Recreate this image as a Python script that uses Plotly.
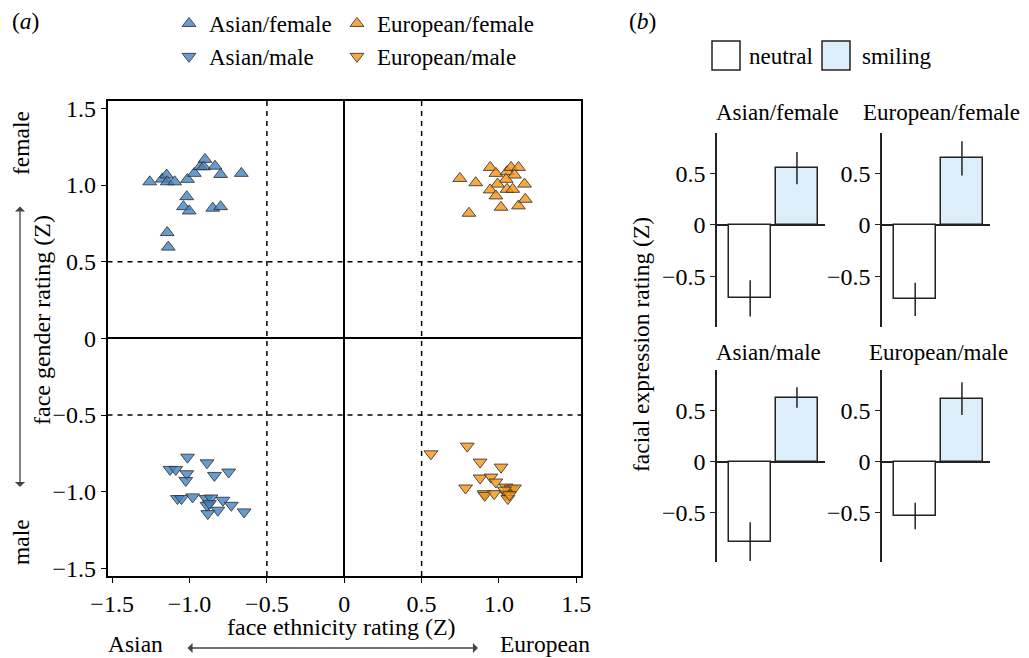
import plotly.graph_objects as go

# ---------------- data: panel (a) ----------------
af_x = [-1.257, -1.176, -1.148, -1.144, -1.096, -1.013, -0.969, -0.930, -0.908, -0.900,
        -0.835, -0.799, -0.665, -1.018, -1.039, -1.002, -0.850, -0.799, -1.144, -1.137]
af_y = [1.021, 1.039, 1.065, 1.021, 1.021, 1.037, 1.076, 1.120, 1.119, 1.167,
        1.123, 1.069, 1.076, 0.924, 0.859, 0.831, 0.849, 0.859, 0.690, 0.595]

ef_x = [0.747, 0.850, 0.943, 0.980, 1.052, 1.078, 1.126, 1.100, 1.046, 0.991,
        0.943, 1.052, 1.089, 1.165, 0.980, 1.013, 1.126, 1.170, 0.806]
ef_y = [1.043, 1.015, 1.115, 1.076, 1.087, 1.115, 1.115, 1.065, 1.037, 1.006,
        0.968, 0.972, 0.972, 1.006, 0.929, 0.855, 0.864, 0.907, 0.816]

am_x = [-1.013, -1.126, -1.089, -1.018, -1.024, -0.887, -0.839, -0.747, -1.078, -1.052,
        -0.980, -0.893, -0.861, -0.887, -0.871, -0.784, -0.730, -0.817, -0.882, -0.647]
am_y = [-0.775, -0.855, -0.855, -0.883, -0.927, -0.812, -0.894, -0.872, -1.045, -1.045,
        -1.034, -1.045, -1.041, -1.089, -1.078, -1.056, -1.089, -1.121, -1.143, -1.132]

em_x = [0.560, 0.795, 0.878, 1.013, 0.878, 0.948, 0.980, 0.784, 0.904, 0.908,
        0.969, 1.046, 1.078, 1.046, 1.057, 1.100, 1.035, 1.067]
em_y = [-0.753, -0.703, -0.807, -0.840, -0.911, -0.905, -0.937, -0.976, -1.013, -1.024,
        -1.013, -0.970, -0.981, -1.013, -1.045, -0.976, -0.990, -1.020]

a_ticks = [-1.5, -1.0, -0.5, 0, 0.5, 1.0, 1.5]
a_ticktext = ["\u22121.5", "\u22121.0", "\u22120.5", "0", "0.5", "1.0", "1.5"]
a_dashed = [-0.5, 0.5]

# ---------------- data: panel (b) ----------------
groups = ["Asian/female", "European/female", "Asian/male", "European/male"]
conditions = ["neutral", "smiling"]
neutral_mean = [-0.71, -0.72, -0.78, -0.53]
neutral_err = [0.175, 0.16, 0.19, 0.13]
smiling_mean = [0.55, 0.645, 0.63, 0.62]
smiling_err = [0.155, 0.165, 0.10, 0.16]
b_ticks = [-0.5, 0, 0.5]
b_ticktext = ["\u22120.5", "0", "0.5"]

# ---------------- styling ----------------
W, H = 1029, 658
OFF = 8  # page body margin
FONT = "Liberation Serif"
FS = 23.5
TFS = 24
BLUE = "rgba(62,128,192,0.78)"
ORANGE = "rgba(246,148,18,0.80)"
EDGE = "rgba(50,50,50,0.85)"
LIGHTBLUE = "#ddeefb"


def px(p):
    return (p - OFF) / W


def py(p):
    return 1 - (p - OFF) / H


fig = go.Figure()

series = [
    ("Asian/female", af_x, af_y, "triangle-up", BLUE, "legend"),
    ("Asian/male", am_x, am_y, "triangle-down", BLUE, "legend"),
    ("European/female", ef_x, ef_y, "triangle-up", ORANGE, "legend2"),
    ("European/male", em_x, em_y, "triangle-down", ORANGE, "legend2"),
]
for name, xs, ys, sym, col, leg in series:
    fig.add_trace(go.Scatter(
        x=xs, y=ys, mode="markers", name=name, legend=leg,
        marker=dict(symbol=sym, size=12, color=col, line=dict(color=EDGE, width=1)),
        xaxis="x", yaxis="y", hoverinfo="skip"))

# panel (b) bars
for i, g in enumerate(groups):
    ax = str(i + 2)
    fig.add_trace(go.Bar(
        x=conditions, y=[neutral_mean[i], smiling_mean[i]],
        width=0.89,
        marker=dict(color=["white", LIGHTBLUE], line=dict(color="#222", width=1.5)),
        error_y=dict(type="data", array=[neutral_err[i], smiling_err[i]],
                     color="#222", thickness=1.5, width=0),
        showlegend=False, xaxis="x" + ax, yaxis="y" + ax, hoverinfo="skip"))

# dashed reference lines in panel (a)
for v in a_dashed:
    fig.add_shape(type="line", xref="x", yref="y domain", x0=v, x1=v, y0=0, y1=1,
                  line=dict(color="black", width=1.5, dash="5px,5px"))
    fig.add_shape(type="line", xref="x domain", yref="y", x0=0, x1=1, y0=v, y1=v,
                  line=dict(color="black", width=1.5, dash="5px,5px"))

legend_common = dict(orientation="v", yanchor="middle", xanchor="left",
                     font=dict(family=FONT, size=23), bgcolor="rgba(0,0,0,0)",
                     borderwidth=0, itemclick=False, itemdoubleclick=False,
                     tracegroupgap=0)

layout = dict(
    width=W, height=H,
    margin=dict(l=0, r=0, t=0, b=0, pad=0, autoexpand=False),
    paper_bgcolor="white", plot_bgcolor="white",
    font=dict(family=FONT, size=FS, color="black"),
    showlegend=True,
    bargap=0,
    xaxis=dict(domain=[px(107.5), px(581)], range=[-1.53, 1.53],
               tickvals=a_ticks, ticktext=a_ticktext, tickfont=dict(size=TFS),
               showline=True, mirror=True, linecolor="black", linewidth=1.5,
               ticks="outside", ticklen=5, tickcolor="black",
               showgrid=False, zeroline=True, zerolinecolor="black", zerolinewidth=1.5,
               anchor="y"),
    yaxis=dict(domain=[py(576), py(100.7)], range=[-1.55, 1.55],
               tickvals=a_ticks, ticktext=a_ticktext, tickfont=dict(size=TFS),
               showline=True, mirror=True, linecolor="black", linewidth=1.5,
               ticks="outside", ticklen=5, tickcolor="black",
               showgrid=False, zeroline=True, zerolinecolor="black", zerolinewidth=1.5,
               anchor="x"),
    legend=dict(x=px(169), y=py(40), **legend_common),
    legend2=dict(x=px(337), y=py(40), **legend_common),
)

b_x_domains = [[717, 825], [882, 990], [717, 825], [882, 990]]
b_y_domains = [[133, 327], [133, 327], [370, 562], [370, 562]]
b_y_ranges = [[-0.987, 0.89], [-0.987, 0.89], [-0.98, 0.90], [-0.98, 0.90]]
for i in range(4):
    n = i + 2
    xd = b_x_domains[i]
    yd = b_y_domains[i]
    layout["xaxis%d" % n] = dict(domain=[px(xd[0]), px(xd[1])], range=[-0.71, 1.6],
                                 showline=False, showticklabels=False, ticks="",
                                 showgrid=False, zeroline=False, anchor="y%d" % n)
    layout["yaxis%d" % n] = dict(domain=[py(yd[1]), py(yd[0])], range=b_y_ranges[i],
                                 tickvals=b_ticks, ticktext=b_ticktext,
                                 tickfont=dict(size=TFS),
                                 showline=True, linecolor="#222", linewidth=1.5,
                                 ticks="outside", ticklen=5, tickcolor="#222",
                                 showgrid=False, zeroline=True, zerolinecolor="#222",
                                 zerolinewidth=1.5, anchor="x%d" % n)

fig.update_layout(**layout)

# ---------------- annotations ----------------
ann = []


def text(t, x, y, angle=0, xanchor="center", size=FS):
    ann.append(dict(text=t, x=px(x), y=py(y), xref="paper", yref="paper",
                    showarrow=False, textangle=angle, xanchor=xanchor, yanchor="middle",
                    font=dict(family=FONT, size=size, color="black")))


text("(<i>a</i>)", 10, 21, xanchor="left")
text("(<i>b</i>)", 627, 21, xanchor="left")
text("face gender rating (Z)", 42, 320, angle=-90, size=24)
text("female", 21, 143, angle=-90)
text("male", 21, 542, angle=-90)
text("face ethnicity rating (Z)", 341, 627, size=24)
text("Asian", 135, 644)
text("European", 545, 644)
text("facial expression rating (Z)", 641, 345, angle=-90)
text("Asian/female", 777, 113, size=23)
text("European/female", 941, 113, size=23)
text("Asian/male", 768, 352, size=23)
text("European/male", 938, 352, size=23)
text("neutral", 747, 56, xanchor="left", size=23)
text("smiling", 860, 56, xanchor="left", size=23)

# double-headed arrows
ann.append(dict(text="", x=px(478), y=py(648), xref="paper", yref="paper",
                ax=-292, ay=0, showarrow=True, arrowside="end+start",
                arrowhead=1, arrowsize=1.3, arrowwidth=1.3, arrowcolor="#444"))
ann.append(dict(text="", x=px(20), y=py(487), xref="paper", yref="paper",
                ax=0, ay=-282, showarrow=True, arrowside="end+start",
                arrowhead=1, arrowsize=1.3, arrowwidth=1.3, arrowcolor="#444"))

fig.update_layout(annotations=ann)

# legend boxes for panel (b)
fig.add_shape(type="rect", xref="paper", yref="paper",
              x0=px(712), x1=px(740), y0=py(70), y1=py(41),
              line=dict(color="#222", width=1.5), fillcolor="white")
fig.add_shape(type="rect", xref="paper", yref="paper",
              x0=px(822), x1=px(850), y0=py(70), y1=py(41),
              line=dict(color="#222", width=1.5), fillcolor=LIGHTBLUE)

fig.write_html("out.html")
